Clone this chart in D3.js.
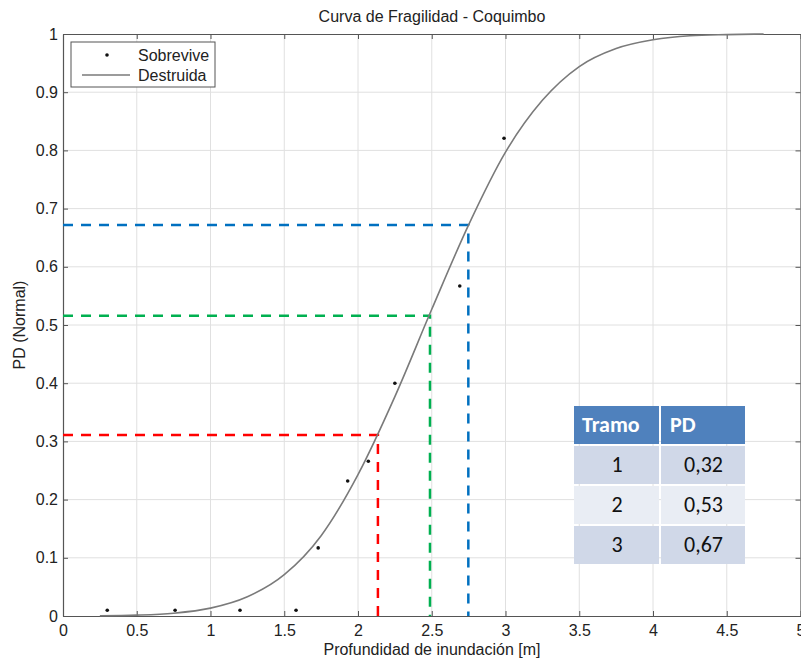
<!DOCTYPE html>
<html>
<head>
<meta charset="utf-8">
<script src="https://cdn.jsdelivr.net/npm/d3@7/dist/d3.min.js"></script>
<style>
  html, body { margin: 0; padding: 0; background: #fff; }
  svg { display: block; }
</style>
</head>
<body>
<svg id="chart" width="801" height="661"></svg>
<script>
// ---- Data ----
const xTicks = [0, 0.5, 1, 1.5, 2, 2.5, 3, 3.5, 4, 4.5, 5];
const xTickLabels = ["0", "0.5", "1", "1.5", "2", "2.5", "3", "3.5", "4", "4.5", "5"];
const yTicks = [0, 0.1, 0.2, 0.3, 0.4, 0.5, 0.6, 0.7, 0.8, 0.9, 1];
const yTickLabels = ["0", "0.1", "0.2", "0.3", "0.4", "0.5", "0.6", "0.7", "0.8", "0.9", "1"];

// "Sobrevive" observed points
const obsX = [0.30, 0.76, 1.20, 1.58, 1.73, 1.93, 2.07, 2.25, 2.69, 2.99];
const obsY = [0.010, 0.010, 0.010, 0.010, 0.117, 0.232, 0.266, 0.400, 0.567, 0.821];

// "Destruida" fragility curve
const curveX = [0.25, 0.5, 0.75, 1.0, 1.25, 1.5, 1.75, 2.0, 2.25, 2.5, 2.75, 3.0, 3.25, 3.5, 3.75, 4.0, 4.25, 4.5, 4.75];
const curveY = [0.0004, 0.0015, 0.0048, 0.0135, 0.033, 0.071, 0.138, 0.243, 0.377, 0.527, 0.672, 0.797, 0.886, 0.944, 0.975, 0.990, 0.997, 0.999, 1.0];

// Reference dashed guide lines (Tramo 1..3)
const guideX = [2.135, 2.488, 2.748];
const guideY = [0.311, 0.516, 0.672];
const guideColors = ["#ff0000", "#00b050", "#0070c0"];

// Table
const tableHeader = ["Tramo", "PD"];
const tableTramo = ["1", "2", "3"];
const tablePD = ["0,32", "0,53", "0,67"];

const legendLabels = ["Sobrevive", "Destruida"];
const titleText = "Curva de Fragilidad - Coquimbo";
const xLabelText = "Profundidad de inundación [m]";
const yLabelText = "PD (Normal)";

// ---- Layout ----
const svg = d3.select("#chart");
const pLeft = 63, pRight = 800.5, pTop = 34, pBottom = 616;
const x = d3.scaleLinear().domain([0, 5]).range([pLeft, pRight]);
const y = d3.scaleLinear().domain([0, 1]).range([pBottom, pTop]);
const font = "'Liberation Sans', Arial, Helvetica, sans-serif";

// Grid
const grid = svg.append("g");
grid.selectAll("line.gx").data(xTicks.slice(1, -1)).enter().append("line")
  .attr("x1", d => x(d)).attr("x2", d => x(d)).attr("y1", pTop).attr("y2", pBottom)
  .attr("stroke", "#e0e0e0").attr("stroke-width", 1);
grid.selectAll("line.gy").data(yTicks.slice(1, -1)).enter().append("line")
  .attr("x1", pLeft).attr("x2", pRight).attr("y1", d => y(d)).attr("y2", d => y(d))
  .attr("stroke", "#e0e0e0").attr("stroke-width", 1);

// Axes (MATLAB-like box with inward ticks)
function styleAxis(g) {
  g.select(".domain").attr("stroke", "#555").attr("stroke-width", 1.2);
  g.selectAll(".tick line").attr("stroke", "#555").attr("stroke-width", 1);
  g.selectAll(".tick text").attr("fill", "#222").style("font-family", font).style("font-size", "16px");
}
const xAxis = svg.append("g").attr("transform", `translate(0,${pBottom})`)
  .call(d3.axisBottom(x).tickValues(xTicks).tickFormat((d, i) => xTickLabels[i]).tickSizeInner(-5).tickSizeOuter(0).tickPadding(9));
styleAxis(xAxis);
const yAxis = svg.append("g").attr("transform", `translate(${pLeft},0)`)
  .call(d3.axisLeft(y).tickValues(yTicks).tickFormat((d, i) => yTickLabels[i]).tickSizeInner(-5).tickSizeOuter(0).tickPadding(5));
styleAxis(yAxis);
const xAxisTop = svg.append("g").attr("transform", `translate(0,${pTop})`)
  .call(d3.axisTop(x).tickValues(xTicks).tickFormat("").tickSizeInner(-5).tickSizeOuter(0));
styleAxis(xAxisTop);
const yAxisRight = svg.append("g").attr("transform", `translate(${pRight},0)`)
  .call(d3.axisRight(y).tickValues(yTicks).tickFormat("").tickSizeInner(-5).tickSizeOuter(0));
styleAxis(yAxisRight);

// Guide dashed lines
guideX.forEach((gx, i) => {
  svg.append("path")
    .attr("d", `M${x(0)},${y(guideY[i])}H${x(gx)}V${y(0)}`)
    .attr("fill", "none").attr("stroke", guideColors[i])
    .attr("stroke-width", 2.5).attr("stroke-dasharray", "10,8");
});

// Curve
const curveData = curveX.map((d, i) => [d, curveY[i]]);
svg.append("path").datum(curveData)
  .attr("d", d3.line().x(d => x(d[0])).y(d => y(d[1])).curve(d3.curveMonotoneX))
  .attr("fill", "none").attr("stroke", "#7a7a7a").attr("stroke-width", 1.6);

// Points
svg.selectAll("circle.obs").data(obsX.map((d, i) => [d, obsY[i]])).enter().append("circle")
  .attr("cx", d => x(d[0])).attr("cy", d => y(d[1])).attr("r", 1.8).attr("fill", "#111");

// Legend
const lg = svg.append("g");
lg.append("rect").attr("x", 71).attr("y", 42).attr("width", 144).attr("height", 45)
  .attr("fill", "#fff").attr("stroke", "#555").attr("stroke-width", 1);
lg.append("circle").attr("cx", 107).attr("cy", 55).attr("r", 1.8).attr("fill", "#111");
lg.append("line").attr("x1", 82).attr("x2", 130).attr("y1", 75).attr("y2", 75)
  .attr("stroke", "#7a7a7a").attr("stroke-width", 1.6);
lg.selectAll("text").data(legendLabels).enter().append("text")
  .attr("x", 138).attr("y", (d, i) => 61 + i * 20)
  .style("font-family", font).style("font-size", "16px").attr("fill", "#222").text(d => d);

// Title & axis labels
svg.append("text").attr("x", 432).attr("y", 22).attr("text-anchor", "middle")
  .style("font-family", font).style("font-size", "16px").attr("fill", "#222").text(titleText);
svg.append("text").attr("x", 432).attr("y", 655).attr("text-anchor", "middle")
  .style("font-family", font).style("font-size", "16px").attr("fill", "#222").text(xLabelText);
svg.append("text").attr("transform", `translate(25,${(pTop + pBottom) / 2}) rotate(-90)`)
  .attr("text-anchor", "middle")
  .style("font-family", font).style("font-size", "16px").attr("fill", "#222").text(yLabelText);

// Table
const tX = 574, tCol = 660, tR = 745;
const rowsTop = [406, 446, 486, 526], rowsBot = [444, 484, 524, 564];
const tg = svg.append("g");
const rowFill = ["#4f81bd", "#d0d8e8", "#e9edf4", "#d0d8e8"];
const tFont = "Carlito, 'Open Sans', 'Noto Sans', sans-serif";
rowsTop.forEach((rt, r) => {
  tg.append("rect").attr("x", tX).attr("y", rt).attr("width", tCol - tX - 1).attr("height", rowsBot[r] - rt).attr("fill", rowFill[r]);
  tg.append("rect").attr("x", tCol + 1).attr("y", rt).attr("width", tR - tCol - 1).attr("height", rowsBot[r] - rt).attr("fill", rowFill[r]);
});
tg.append("text").attr("x", 582).attr("y", 432).style("font-family", tFont).style("font-size", "22px")
  .style("font-weight", "bold").attr("fill", "#fff").text(tableHeader[0]);
tg.append("text").attr("x", 670).attr("y", 432).style("font-family", tFont).style("font-size", "22px")
  .style("font-weight", "bold").attr("fill", "#fff").text(tableHeader[1]);
tableTramo.forEach((t, i) => {
  const cy = (rowsTop[i + 1] + rowsBot[i + 1]) / 2 + 7;
  tg.append("text").attr("x", (tX + tCol) / 2).attr("y", cy).attr("text-anchor", "middle")
    .style("font-family", tFont).style("font-size", "22px").attr("fill", "#111").text(t);
  tg.append("text").attr("x", (tCol + tR) / 2 + 1).attr("y", cy).attr("text-anchor", "middle")
    .style("font-family", tFont).style("font-size", "22px").attr("fill", "#111").text(tablePD[i]);
});
</script>
</body>
</html>
